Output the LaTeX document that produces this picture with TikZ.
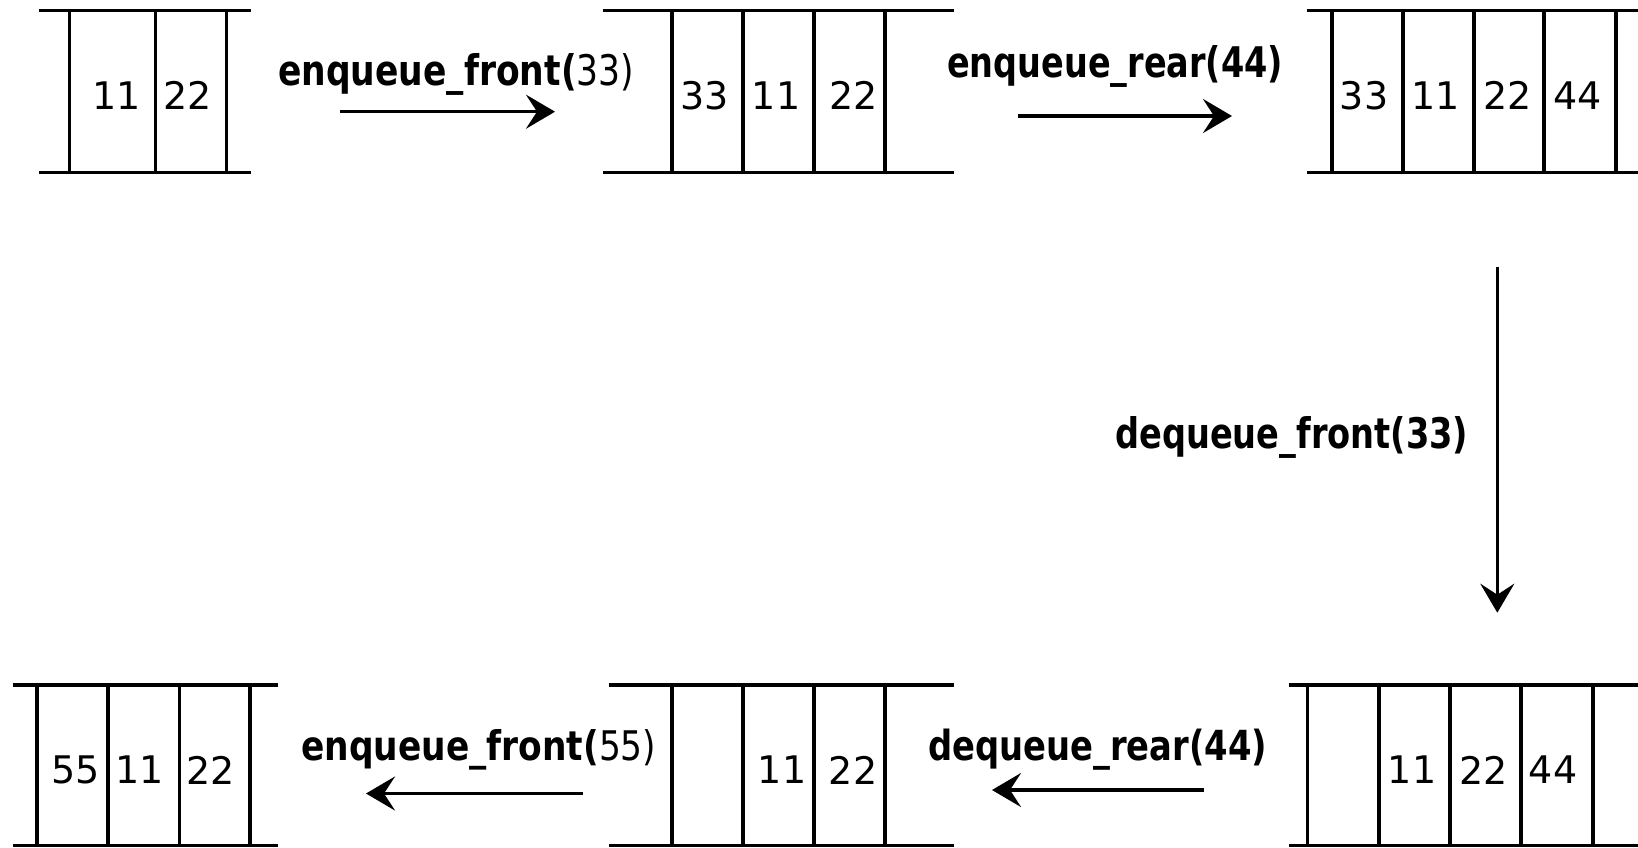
\documentclass[tikz,border=0pt]{standalone}
\usepackage{graphicx}
\usepackage{fontspec}
\setmainfont{DejaVu Sans}
\usetikzlibrary{arrows.meta}
\tikzset{
  qline/.style={line width=3.4pt},
  cellline/.style={line width=3.2pt},
  arr/.style={line width=3.3pt,-{Stealth[length=29pt,width=34pt,inset=11pt]}},
  val/.style={inner sep=0pt,anchor=center,font=\fontsize{38}{40}\selectfont},
  lab/.style={inner sep=0pt,anchor=base west},
}
\newcommand\oplabel[3]{\resizebox{#1pt}{#2pt}{#3}}
\begin{document}
\begin{tikzpicture}[x=1pt,y=-1pt]
\useasboundingbox (0,0) rectangle (1638,847);
% ---------- Queue A (top left)
\draw[qline] (39,10.7) -- (251,10.7) (39,172.7) -- (251,172.7);
\foreach \x in {69.3,155.7,226.7} \draw[cellline] (\x,10.7) -- (\x,172.7);
\node[val] (a1) at (116.7,95.8) {11};
\node[val] (a2) at (188,95.8) {22};
% ---------- Queue B (top middle)
\draw[qline] (603,10.7) -- (954,10.7) (603,172.7) -- (954,172.7);
\foreach \x in {672,743,814,885} \draw[cellline] (\x,10.7) -- (\x,172.7);
\node[val] (b1) at (705,95.8) {33};
\node[val] (b2) at (776,95.8) {11};
\node[val] (b3) at (853.3,95.8) {22};
% ---------- Queue C (top right)
\draw[qline] (1307,10.7) -- (1640,10.7) (1307,172.7) -- (1640,172.7);
\foreach \x in {1332,1403,1474,1544,1616} \draw[cellline] (\x,10.7) -- (\x,172.7);
\node[val] (c1) at (1364,95.8) {33};
\node[val] (c2) at (1435.5,95.8) {11};
\node[val] (c3) at (1507.2,95.8) {22};
\node[val] (c4) at (1577.2,95.8) {44};
% ---------- Queue D (bottom left)
\draw[qline] (12.5,685) -- (278,685) (12.5,845.7) -- (278,845.7);
\foreach \x in {37,108,179.5,250} \draw[cellline] (\x,685) -- (\x,845.7);
\node[val] (d1) at (76,770) {55};
\node[val] (d2) at (139.5,770) {11};
\node[val] (d3) at (211,770) {22};
% ---------- Queue E (bottom middle)
\draw[qline] (609,685) -- (954,685) (609,845.7) -- (954,845.7);
\foreach \x in {672,743,814,885} \draw[cellline] (\x,685) -- (\x,845.7);
\node[val] (e1) at (782,770) {11};
\node[val] (e2) at (853,770) {22};
% ---------- Queue F (bottom right)
\draw[qline] (1289,685) -- (1640,685) (1289,845.7) -- (1640,845.7);
\foreach \x in {1307.5,1379,1450,1521,1593} \draw[cellline] (\x,685) -- (\x,845.7);
\node[val] (f1) at (1412,770) {11};
\node[val] (f2) at (1483.5,770) {22};
\node[val] (f3) at (1553,770) {44};
% ---------- operation labels
\node[lab] (l1) at (278,85) {\oplabel{356}{32}{\bfseries enqueue\_front(\mdseries 33)}};
\node[lab] (l2) at (947,77.3) {\oplabel{336}{32}{\bfseries enqueue\_rear(44)}};
\node[lab] (l3) at (1115,448.3) {\oplabel{353}{32}{\bfseries dequeue\_front(33)}};
\node[lab] (l4) at (301,760) {\oplabel{355}{31}{\bfseries enqueue\_front(\mdseries 55)}};
\node[lab] (l5) at (928,760) {\oplabel{339}{31.5}{\bfseries dequeue\_rear(44)}};
% ---------- arrows
\coordinate (s1) at (340,111.7);   \coordinate (t1) at (555,111.7);
\coordinate (s2) at (1018,116);    \coordinate (t2) at (1232,116);
\coordinate (s3) at (1497.3,266.7); \coordinate (t3) at (1497.3,612.7);
\coordinate (s4) at (583,793.5);   \coordinate (t4) at (366,793.5);
\coordinate (s5) at (1203.5,790);  \coordinate (t5) at (992,790);
\draw[arr] (s1) -- (t1);
\draw[arr] (s2) -- (t2);
\draw[arr] (s3) -- (t3);
\draw[arr] (s4) -- (t4);
\draw[arr] (s5) -- (t5);
\end{tikzpicture}
\end{document}
